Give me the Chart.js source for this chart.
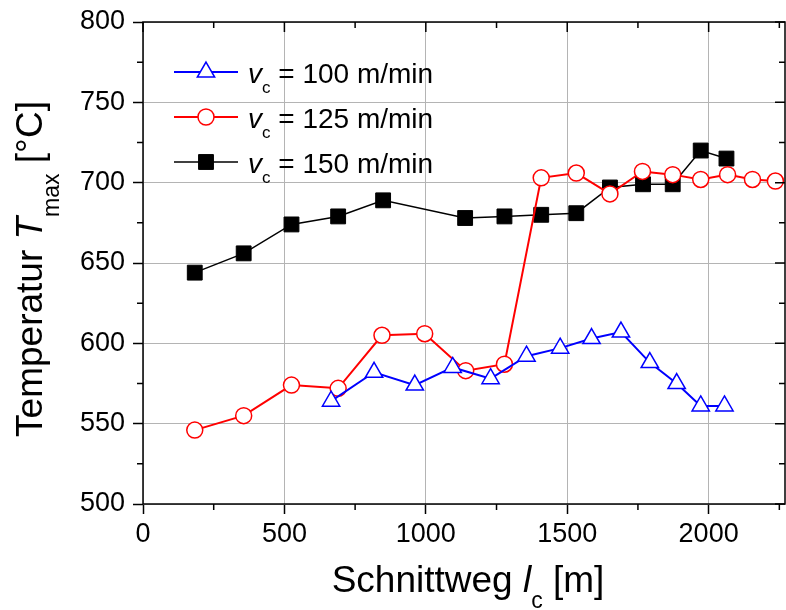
<!DOCTYPE html>
<html lang="de">
<head>
<meta charset="UTF-8">
<title>Temperatur Tmax über Schnittweg</title>
<script src="https://cdn.jsdelivr.net/npm/chart.js"></script>
<style>
    html, body { margin: 0; padding: 0; background: #fff; }
    #wrap { width: 786px; height: 610px; }
</style>
</head>
<body>
<div id="wrap"><canvas id="chart" width="786" height="610"></canvas></div>
<script>
    const xBlue = [665, 817, 961, 1095, 1229, 1356, 1475, 1586, 1690, 1792, 1887, 1972, 2056];
    const yBlue = [564, 582, 574, 585, 578, 592, 597, 603, 607, 588, 575, 561, 561];

    const xRed = [183, 356, 525, 690, 845, 996, 1141, 1278, 1408, 1532, 1651, 1766, 1873, 1972, 2067, 2155, 2236];
    const yRed = [546, 555, 574, 572, 605, 606, 583, 587, 703, 706, 693, 707, 705, 702, 705, 702, 701];

    const xBlack = [183, 356, 525, 690, 849, 1139, 1278, 1408, 1532, 1651, 1768, 1873, 1972, 2063];
    const yBlack = [644, 656, 674, 679, 689, 678, 679, 680, 681, 697, 699, 699, 720, 715];

    const xTicks = [0, 500, 1000, 1500, 2000];
    const yTicks = [500, 550, 600, 650, 700, 750, 800];
    const speeds = ['100', '125', '150'];

    const FONT = "'Liberation Sans', Arial, sans-serif";

    function points(xs, ys) {
        return xs.map((x, i) => ({ x: x, y: ys[i] }));
    }

    // Text mit Kursiv und Tiefstellung
    function drawRich(ctx, parts, size, x, y, align, subOff) {
        const fontOf = p => (p.s === 'i' ? 'italic ' : '') +
            (p.s === 'sub' ? Math.round(size * 0.62) : size) + 'px ' + FONT;
        let w = 0;
        parts.forEach(p => { ctx.font = fontOf(p); p.w = ctx.measureText(p.t).width; w += p.w; });
        let cx = align === 'center' ? x - w / 2 : x;
        ctx.textAlign = 'left';
        ctx.textBaseline = 'alphabetic';
        parts.forEach(p => {
            ctx.font = fontOf(p);
            ctx.fillText(p.t, cx, y + (p.s === 'sub' ? subOff : 0));
            cx += p.w;
        });
    }

    const framePlugin = {
        id: 'frame',
        afterDraw(chart) {
            const ctx = chart.ctx;
            const a = chart.chartArea;
            const xs = chart.scales.x, ys = chart.scales.y;
            ctx.save();
            ctx.strokeStyle = '#000';
            ctx.lineWidth = 1.5;
            ctx.strokeRect(a.left, a.top, a.right - a.left, a.bottom - a.top);

            ctx.beginPath();
            // obere Achse: Striche nach innen, unten Nebenstriche nach außen
            for (let i = 0; i < xTicks.length; i++) {
                const px = xs.getPixelForValue(xTicks[i]);
                ctx.moveTo(px, a.top); ctx.lineTo(px, a.top + 10);
                const mv = xTicks[i] + (xTicks[1] - xTicks[0]) / 2;
                if (mv < xs.max) {
                    const pm = xs.getPixelForValue(mv);
                    ctx.moveTo(pm, a.top); ctx.lineTo(pm, a.top + 6);
                    ctx.moveTo(pm, a.bottom); ctx.lineTo(pm, a.bottom + 6);
                }
            }
            for (let i = 0; i < yTicks.length; i++) {
                const py = ys.getPixelForValue(yTicks[i]);
                ctx.moveTo(a.right, py); ctx.lineTo(a.right - 10, py);
                if (i < yTicks.length - 1) {
                    const pm = ys.getPixelForValue((yTicks[i] + yTicks[i + 1]) / 2);
                    ctx.moveTo(a.left, pm); ctx.lineTo(a.left - 6, pm);
                    ctx.moveTo(a.right, pm); ctx.lineTo(a.right - 6, pm);
                }
            }
            ctx.stroke();

            ctx.fillStyle = '#000';
            // Achsentitel
            drawRich(ctx, [
                { t: 'Schnittweg ' }, { t: 'l', s: 'i' }, { t: 'c', s: 'sub' }, { t: ' [m]' }
            ], 37, (a.left + a.right) / 2 + 4, 592, 'center', 16);

            ctx.save();
            ctx.translate(42, (a.top + a.bottom) / 2 + 6);
            ctx.rotate(-Math.PI / 2);
            drawRich(ctx, [
                { t: 'Temperatur ' }, { t: 'T', s: 'i' }, { t: 'max', s: 'sub' }, { t: ' [°C]' }
            ], 37, 0, 0, 'center', 17);
            ctx.restore();

            // Legende
            chart.data.datasets.forEach((ds, i) => {
                const cy = 72 + i * 45;
                ctx.strokeStyle = ds.borderColor;
                ctx.lineWidth = ds.borderWidth;
                ctx.beginPath();
                ctx.moveTo(174, cy); ctx.lineTo(238, cy);
                ctx.stroke();
                ctx.fillStyle = ds.pointBackgroundColor;
                ctx.strokeStyle = ds.pointBorderColor;
                ctx.lineWidth = ds.pointBorderWidth;
                Chart.helpers.drawPoint(ctx, {
                    pointStyle: ds.pointStyle, radius: ds.pointRadius, rotation: 0, borderWidth: ds.pointBorderWidth
                }, 206, cy);
                ctx.fillStyle = '#000';
                drawRich(ctx, [
                    { t: 'v', s: 'i' }, { t: 'c', s: 'sub' }, { t: ' = ' + speeds[i] + ' m/min' }
                ], 28, 248, cy + 11, 'left', 10);
            });
            ctx.restore();
        }
    };

    new Chart(document.getElementById('chart'), {
        type: 'line',
        data: {
            datasets: [
                {
                    label: 'vc = ' + speeds[0] + ' m/min',
                    data: points(xBlue, yBlue),
                    borderColor: '#0000ff',
                    borderWidth: 2,
                    pointStyle: 'triangle',
                    pointRadius: 10,
                    pointBackgroundColor: '#ffffff',
                    pointBorderColor: '#0000ff',
                    pointBorderWidth: 1.5
                },
                {
                    label: 'vc = ' + speeds[1] + ' m/min',
                    data: points(xRed, yRed),
                    borderColor: '#ff0000',
                    borderWidth: 2,
                    pointStyle: 'circle',
                    pointRadius: 8,
                    pointBackgroundColor: '#ffffff',
                    pointBorderColor: '#ff0000',
                    pointBorderWidth: 1.5
                },
                {
                    label: 'vc = ' + speeds[2] + ' m/min',
                    data: points(xBlack, yBlack),
                    borderColor: '#000000',
                    borderWidth: 1.5,
                    pointStyle: 'rect',
                    pointRadius: 10.5,
                    pointBackgroundColor: '#000000',
                    pointBorderColor: '#000000',
                    pointBorderWidth: 1
                }
            ]
        },
        options: {
            responsive: false,
            animation: false,
            layout: { autoPadding: false, padding: { top: 22, right: 1, left: 0, bottom: 0 } },
            plugins: { legend: { display: false }, tooltip: { enabled: false } },
            scales: {
                x: {
                    type: 'linear',
                    min: 0,
                    max: 2270,
                    afterBuildTicks: s => { s.ticks = xTicks.map(v => ({ value: v })); },
                    afterFit: s => { s.height = 106; s.paddingLeft = 0; s.paddingRight = 0; },
                    ticks: { callback: v => String(v), color: '#000', font: { family: FONT, size: 27 }, padding: 4, maxRotation: 0 },
                    grid: { color: '#b4b4b4', lineWidth: 1, tickLength: 10, tickColor: '#000', tickWidth: 1.5 },
                    border: { display: false }
                },
                y: {
                    type: 'linear',
                    min: 500,
                    max: 800,
                    afterBuildTicks: s => { s.ticks = yTicks.map(v => ({ value: v })); },
                    afterFit: s => { s.width = 143; s.paddingTop = 0; s.paddingBottom = 0; },
                    ticks: { callback: v => String(v), color: '#000', font: { family: FONT, size: 27 }, padding: 8 },
                    grid: { color: '#b4b4b4', lineWidth: 1, tickLength: 10, tickColor: '#000', tickWidth: 1.5 },
                    border: { display: false }
                }
            }
        },
        plugins: [framePlugin]
    });
</script>
</body>
</html>
